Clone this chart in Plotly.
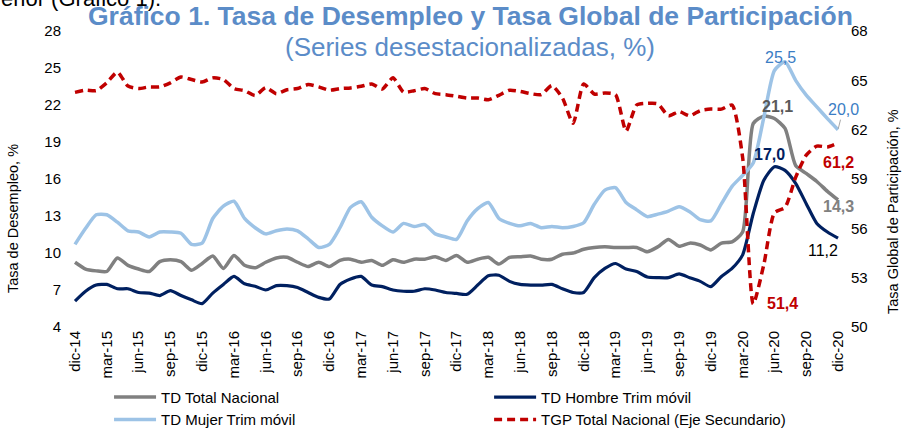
import plotly.graph_objects as go

# ---------------- data ----------------
months = list(range(73))  # dic-14 ... dic-20
tick_pos = list(range(0, 73, 3))
tick_labels = ["dic-14", "mar-15", "jun-15", "sep-15", "dic-15", "mar-16", "jun-16", "sep-16",
               "dic-16", "mar-17", "jun-17", "sep-17", "dic-17", "mar-18", "jun-18", "sep-18",
               "dic-18", "mar-19", "jun-19", "sep-19", "dic-19", "mar-20", "jun-20", "sep-20", "dic-20"]

td_total = [9.25, 8.7, 8.55, 8.5, 9.6, 9.0, 8.7, 8.5, 9.3, 9.45, 9.3, 8.6, 9.15, 9.75, 8.75, 9.8,
            9.0, 8.8, 9.25, 9.6, 9.65, 9.25, 8.9, 9.25, 8.9, 9.4, 9.5, 9.25, 9.4, 9.0, 9.45, 9.25,
            9.5, 9.5, 9.7, 9.4, 9.8, 9.25, 9.5, 9.65, 9.1, 9.65, 9.7, 9.75, 9.5, 9.5, 9.9, 10.0,
            10.3, 10.45, 10.5, 10.45, 10.45, 10.45, 10.1, 10.5, 11.1, 10.55, 10.8, 10.65, 10.25,
            10.8, 10.9, 11.7, 20.5, 21.1, 20.9, 20.1, 17.1, 16.45, 15.8, 15.0, 14.3]

td_hombre = [6.1, 6.9, 7.4, 7.45, 7.1, 7.1, 6.8, 6.75, 6.55, 6.95, 6.55, 6.2, 5.9, 6.75, 7.45, 8.1,
             7.5, 7.3, 7.0, 7.35, 7.35, 7.2, 6.8, 6.4, 6.27, 7.45, 7.9, 8.1, 7.4, 7.27, 7.0, 6.9,
             6.9, 7.1, 7.0, 6.8, 6.72, 6.65, 7.4, 8.15, 8.2, 7.7, 7.45, 7.4, 7.4, 7.45, 7.1, 6.8,
             6.8, 8.0, 8.75, 9.15, 8.7, 8.5, 8.05, 8.0, 8.0, 8.3, 8.0, 7.7, 7.27, 8.1, 8.75, 9.85,
             13.2, 15.9, 17.0, 16.7, 15.65, 14.0, 12.4, 11.7, 11.2]

td_mujer = [10.7, 12.0, 13.1, 13.1, 12.5, 11.8, 11.7, 11.3, 11.7, 11.7, 11.6, 10.7, 10.8, 12.8,
            13.8, 14.2, 12.8, 12.05, 11.55, 11.8, 11.95, 11.8, 11.15, 10.45, 10.7, 12.05, 13.7,
            14.15, 12.9, 12.2, 11.7, 12.4, 12.15, 12.3, 11.55, 11.3, 11.1, 12.6, 13.6, 14.1, 12.8,
            12.4, 12.2, 12.4, 12.05, 12.15, 12.05, 12.15, 12.45, 13.95, 15.1, 15.3, 14.1, 13.5,
            12.95, 13.15, 13.4, 13.75, 13.35, 12.7, 12.6, 14.0, 15.4, 16.3, 17.3, 21.0, 24.8, 25.5,
            24.0, 22.8, 21.85, 20.9, 20.0]

tgp_total = [64.27, 64.4, 64.37, 64.85, 65.5, 64.65, 64.5, 64.6, 64.6, 64.85, 65.2, 65.05, 64.9,
             65.15, 65.05, 64.5, 64.37, 64.08, 64.55, 64.19, 64.43, 64.5, 64.74, 64.6, 64.4, 64.5,
             64.54, 64.64, 64.78, 64.47, 65.15, 64.29, 64.37, 64.5, 64.19, 64.13, 64.03, 63.92,
             63.92, 63.82, 64.09, 64.4, 64.33, 64.19, 64.13, 64.68, 63.92, 62.39, 64.78, 64.17,
             64.23, 64.13, 61.92, 63.5, 63.6, 63.57, 62.84, 63.1, 62.84, 63.16, 63.25, 63.25, 63.5,
             60.3, 51.4, 53.8, 56.95, 57.27, 59.1, 60.45, 61.0, 60.95, 61.2]

left_ticks = [4, 7, 10, 13, 16, 19, 22, 25, 28]
right_ticks = [50, 53, 56, 59, 62, 65, 68]

FONT = "Arial, Liberation Sans, sans-serif"
C_GRAY = "#808080"
C_NAVY = "#002060"
C_LBLUE = "#9DC3E6"
C_RED = "#C00000"
C_TITLE = "#5B8CC8"

fig = go.Figure()
shape = dict(shape="spline", smoothing=0.6)
fig.add_trace(go.Scatter(x=months, y=td_total, name="TD Total Nacional", mode="lines",
                         legend="legend",
                         line=dict(color=C_GRAY, width=3.5, **shape)))
fig.add_trace(go.Scatter(x=months, y=td_hombre, name="TD Hombre Trim móvil", mode="lines",
                         legend="legend2",
                         line=dict(color=C_NAVY, width=3.2, **shape)))
fig.add_trace(go.Scatter(x=months, y=td_mujer, name="TD Mujer Trim móvil", mode="lines",
                         legend="legend",
                         line=dict(color=C_LBLUE, width=3.5, **shape)))
fig.add_trace(go.Scatter(x=months, y=tgp_total, name="TGP Total Nacional (Eje Secundario)",
                         mode="lines", yaxis="y2", legend="legend2",
                         line=dict(color=C_RED, width=3.5, dash="8px,5px", **shape)))

# clipped text from the page above (drawn first so the title sits on top)
fig.add_annotation(xref="paper", yref="paper", x=0.128, y=1.0, yshift=33, xanchor="right",
                   yanchor="middle", showarrow=False, text="erior (Gráfico 1).",
                   font=dict(family=FONT, size=22, color="#000000"))

# data labels
def lab(x, y, text, color, bold=False, yref="y", dx=0, dy=0):
    fig.add_annotation(x=x, y=y, xref="x", yref=yref, text=("<b>%s</b>" % text) if bold else text,
                       showarrow=False, xshift=dx, yshift=dy, yanchor="middle", xanchor="center",
                       font=dict(family=FONT, size=16, color=color))

lab(67, td_mujer[67], "25,5", "#3B7DC4", dx=-5, dy=4)
lab(65, td_total[65], "21,1", "#595959", bold=True, dx=14, dy=10)
fig.add_annotation(x=72, y=td_mujer[72], xref="x", yref="y", text="20,0",
                   showarrow=True, arrowhead=0, arrowwidth=1, arrowcolor="#A6A6A6",
                   ax=5, ay=-20, standoff=1,
                   font=dict(family=FONT, size=16, color="#3B7DC4"))
lab(66, td_hombre[66], "17,0", C_NAVY, bold=True, dx=-5, dy=12)
lab(72, td_total[72], "14,3", C_GRAY, bold=True, dx=0, dy=-7)
lab(72, td_hombre[72], "11,2", "#000000", dx=-15, dy=-12)
lab(72, tgp_total[72], "61,2", C_RED, bold=True, yref="y2", dx=0, dy=-20)
lab(64, tgp_total[64], "51,4", C_RED, bold=True, yref="y2", dx=29, dy=0)

# title and subtitle
fig.add_annotation(xref="paper", yref="paper", x=0.518, y=1.0, yshift=15, showarrow=False,
                   yanchor="middle",
                   text="<b>Gráfico 1. Tasa de Desempleo y Tasa Global de Participación</b>",
                   font=dict(family=FONT, size=26.5, color=C_TITLE))
fig.add_annotation(xref="paper", yref="paper", x=0.518, y=1.0, yshift=-16, showarrow=False,
                   yanchor="middle",
                   text="(Series desestacionalizadas, %)",
                   font=dict(family=FONT, size=26, color=C_TITLE))

# axis titles
fig.add_annotation(xref="paper", yref="paper", x=-0.0622, y=0.368, textangle=-90,
                   showarrow=False, xanchor="center", yanchor="middle",
                   text="Tasa de Desempleo, %", font=dict(family=FONT, size=14.5, color="#000000"))
fig.add_annotation(xref="paper", yref="paper", x=1.0546, y=0.3885, textangle=-90,
                   showarrow=False, xanchor="center", yanchor="middle",
                   text="Tasa Global de Participación, %",
                   font=dict(family=FONT, size=14.5, color="#000000"))

leg_common = dict(orientation="v", yanchor="top", xanchor="left", itemwidth=42,
                  font=dict(family=FONT, size=15), tracegroupgap=0, bgcolor="rgba(0,0,0,0)")

fig.update_layout(
    width=909, height=434,
    margin=dict(l=62, r=59, t=31, b=107, autoexpand=False),
    paper_bgcolor="white", plot_bgcolor="white",
    font=dict(family=FONT, size=15, color="#000000"),
    showlegend=True,
    legend=dict(x=0.0597, y=-0.182, **leg_common),
    legend2=dict(x=0.542, y=-0.182, **leg_common),
    xaxis=dict(range=[-1.227, 73.13], tickmode="array", tickvals=tick_pos, ticktext=tick_labels,
               tickangle=-90, showgrid=False, zeroline=False, showline=False, ticks="",
               tickfont=dict(size=15)),
    yaxis=dict(range=[4, 28], tickvals=left_ticks, showgrid=False, zeroline=False,
               showline=False, ticks="", tickfont=dict(size=15)),
    yaxis2=dict(range=[50, 68], tickvals=right_ticks, overlaying="y", side="right",
                showgrid=False, zeroline=False, showline=False, ticks="",
                tickfont=dict(size=15)),
)

fig.write_html("out.html", config={"displayModeBar": False},
               post_script="document.body.style.margin='0px';")
